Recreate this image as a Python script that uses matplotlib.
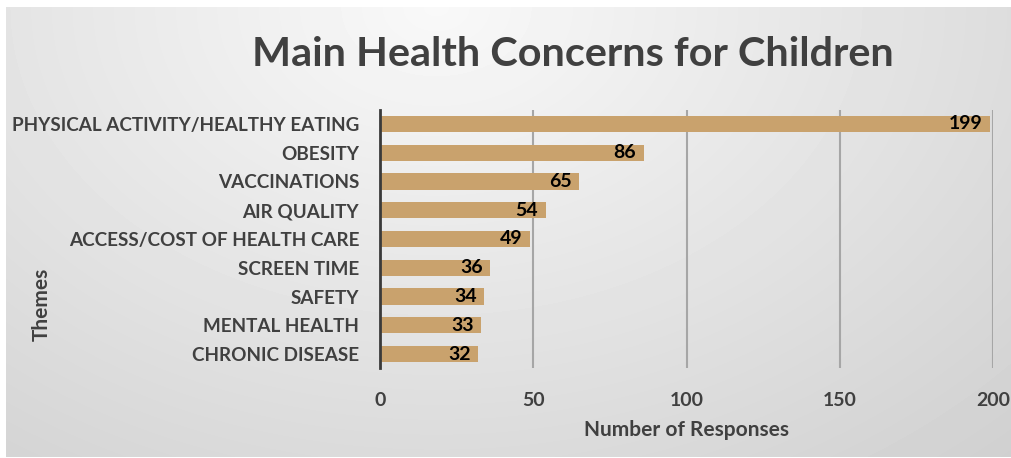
import numpy as np
import matplotlib.pyplot as plt

# data
themes = ["PHYSICAL ACTIVITY/HEALTHY EATING", "OBESITY", "VACCINATIONS",
          "AIR QUALITY", "ACCESS/COST OF HEALTH CARE", "SCREEN TIME",
          "SAFETY", "MENTAL HEALTH", "CHRONIC DISEASE"]
responses = [199, 86, 65, 54, 49, 36, 34, 33, 32]
xticks = [0, 50, 100, 150, 200]

plt.rcParams['font.family'] = ['Lato', 'DejaVu Sans']
plt.rcParams['font.weight'] = 'bold'
plt.rcParams['axes.labelweight'] = 'bold'

W, H = 1011, 458
fig = plt.figure(figsize=(W / 100, H / 100), dpi=100)

# gradient background of the chart area
bg = fig.add_axes([6 / W, 1 / H, 1 - 6 / W, 450 / H])
yy, xx = np.mgrid[0:450, 0:1005]
d = np.sqrt(((xx - 430) / 900.0) ** 2 + (yy / 650.0) ** 2)
shade = np.clip(0.975 - 0.17 * d, 0.78, 1.0)
bg.imshow(shade, cmap='gray', vmin=0, vmax=1, aspect='auto')
bg.axis('off')

ax = fig.add_axes([380 / W, 89.6 / H, 613 / W, 258.8 / H])
ax.patch.set_alpha(0)
y = np.arange(len(themes))
ax.barh(y, responses, height=0.56, color='#C9A26D', zorder=2)
ax.set_ylim(len(themes) - 0.5, -0.5)
ax.set_xlim(0, 200)
ax.set_xticks(xticks)
ax.set_yticks(y)
ax.set_yticklabels(themes, fontsize=13.6, color='#404040', fontweight='bold')
ax.set_xticklabels([str(t) for t in xticks], fontweight='bold')
ax.tick_params(axis='x', labelsize=14, labelcolor='#404040', length=0, pad=17)
ax.tick_params(axis='y', length=0, pad=15)
ax.grid(axis='x', color='#A6A6A6', linewidth=1.5, zorder=1)
for s in ['top', 'right', 'bottom']:
    ax.spines[s].set_visible(False)
ax.spines['left'].set_color('#3a3a3a')
ax.spines['left'].set_linewidth(2)
ax.spines['left'].set_zorder(3)

for yi, v in zip(y, responses):
    ax.text(v - 2.5, yi, str(v), ha='right', va='center', fontsize=14,
            color='black', fontweight='bold', zorder=4)

ax.set_xlabel('Number of Responses', fontsize=15, color='#404040',
              fontweight='bold', labelpad=8)
fig.text(42 / W, 1 - 304 / H, 'Themes', rotation=90, ha='center', va='center',
         fontsize=15, color='#404040', fontweight='bold')
fig.text(573 / W, 1 - 55 / H, 'Main Health Concerns for Children', ha='center',
         va='center', fontsize=29.8, color='#404040', fontweight='bold')

fig.savefig('out.png', dpi=100, facecolor='white')
